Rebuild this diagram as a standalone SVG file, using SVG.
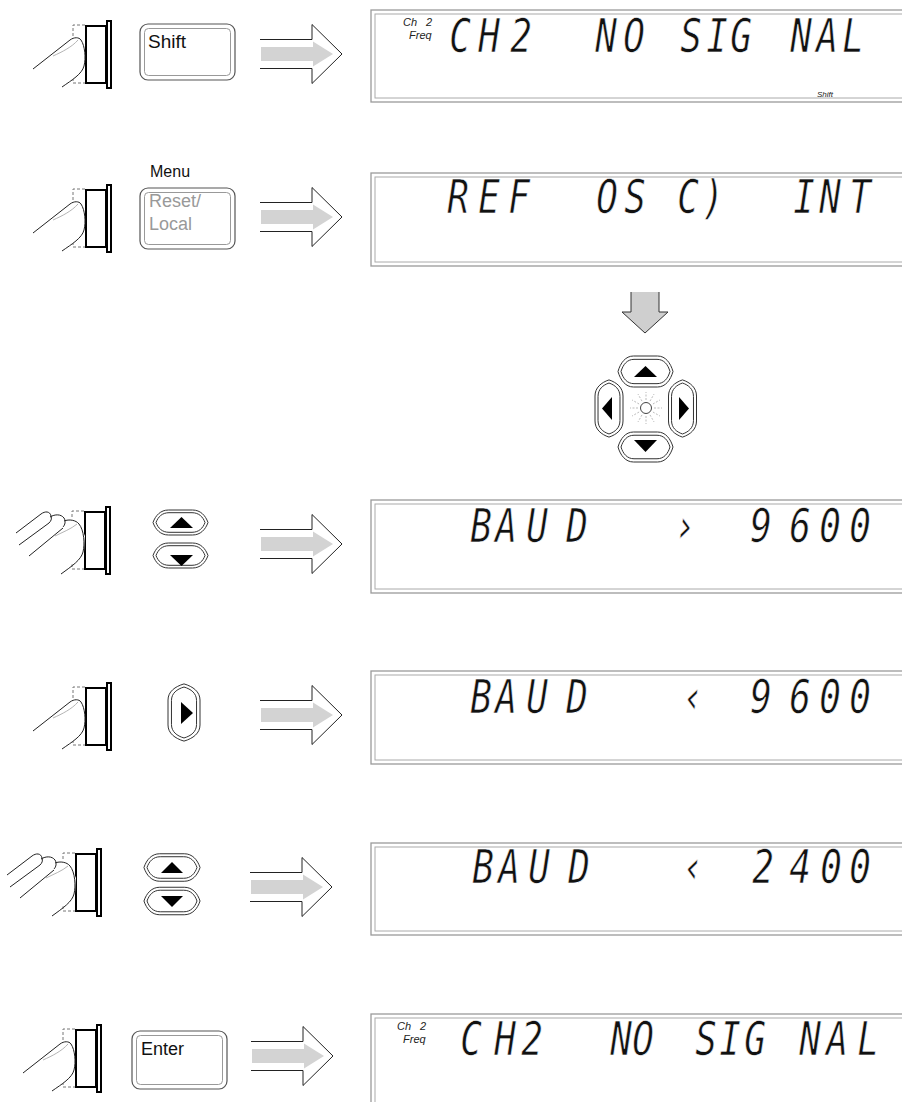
<svg xmlns="http://www.w3.org/2000/svg" xmlns:xlink="http://www.w3.org/1999/xlink" width="902" height="1102" viewBox="0 0 902 1102">
  <style>
    .lcdo{fill:#fff;stroke:#9a9a9a;stroke-width:1.3}
    .lcdi{fill:none;stroke:#aaa;stroke-width:1}
    .seg{font-family:"DejaVu Sans Mono","Liberation Mono",monospace;font-style:italic;font-size:36px;fill:#111;text-anchor:middle;stroke:#fff;stroke-width:0.5}
    .key{font-family:"Liberation Sans",Arial,sans-serif;font-size:18px;fill:#111}
    .keyo{fill:#fff;stroke:#555;stroke-width:1.2}
    .keyi{fill:none;stroke:#999;stroke-width:1}
    .ann{font-family:"Liberation Sans",Arial,sans-serif;font-style:italic;fill:#222}
    .ln{fill:none;stroke:#222;stroke-width:1}
    .nail{fill:none;stroke:#aaa;stroke-width:0.9}
    .tri{fill:#000}
    .ray{stroke:#aaa;stroke-width:0.8;stroke-dasharray:2,1.5}
  </style>
  <defs>
    <!-- side view of a push button, with its released position dashed -->
    <g id="btn">
      <path d="M85,25 H73 V83 H85" fill="none" stroke="#777" stroke-width="1" stroke-dasharray="3,2"/>
      <rect x="86" y="26" width="20" height="57" fill="#fff" stroke="#000" stroke-width="2"/>
      <rect x="107" y="21" width="4" height="67" fill="#fff" stroke="#000" stroke-width="2"/>
    </g>
    <!-- one finger pressing -->
    <g id="finger">
      <path d="M33,69 L70,40 C74,37 79,37 81,40 C85,46 86,58 84,66 C82,74 72,80 62,87 L40,87 Z" fill="#fff"/>
      <path class="ln" d="M33,69 L70,40 C74,37 79,37 81,40 C85,46 86,58 84,66 C82,74 72,80 62,87"/>
      <path class="nail" d="M53,56 C62,52 72,47 78,40"/>
    </g>
    <!-- several fingers pressing -->
    <g id="hand">
      <path d="M17,47 L42,26 L66,29 L80,36 L86,50 L85,66 L63,88 L30,88 L15,60 Z" fill="#fff"/>
      <path class="ln" d="M17,47 L42,28 C46,25 51,25 52,30 C53,33 52,35 50,37"/>
      <path class="ln" d="M20,59 L50,37"/>
      <path class="ln" d="M51,31 C56,28 62,28 65,32 C67,35 66,39 64,41"/>
      <path class="ln" d="M30,70 L64,42"/>
      <path class="ln" d="M65,35 C70,33 77,34 80,38 C85,44 86,58 84,66 C82,74 73,80 62,88"/>
      <path class="nail" d="M56,50 C64,46 72,43 78,38"/>
    </g>
    <!-- hollow block arrow with grey core -->
    <g id="arR">
      <path d="M0,-14.5 H52 V-29.5 L82,0 L52,29.5 V14.5 H0" fill="#fff" stroke="#222" stroke-width="1"/>
      <path d="M1,-7 H53 V-12.5 L73,0 L53,12.5 V7 H1 Z" fill="#d3d3d3"/>
    </g>
    <!-- lens shaped arrow key, double outline -->
    <g id="hkey">
      <path d="M-27.5,0 C-25,-7 -20,-12.5 -12,-12.5 H12 C20,-12.5 25,-7 27.5,0 C25,7 20,12.5 12,12.5 H-12 C-20,12.5 -25,7 -27.5,0 Z" fill="#fff" stroke="#333" stroke-width="1" vector-effect="non-scaling-stroke"/>
      <path d="M-24.5,0 C-22.5,-5.5 -18.5,-9.8 -11.5,-9.8 H11.5 C18.5,-9.8 22.5,-5.5 24.5,0 C22.5,5.5 18.5,9.8 11.5,9.8 H-11.5 C-18.5,9.8 -22.5,5.5 -24.5,0 Z" fill="none" stroke="#333" stroke-width="1" vector-effect="non-scaling-stroke"/>
    </g>
  </defs>

  <!-- step 1 : Shift -->
  <g id="step1-press">
    <use xlink:href="#btn"/>
    <use xlink:href="#finger"/>
  </g>
  <g id="step1-key">
    <rect class="keyo" x="140" y="24" width="95" height="56" rx="8"/>
    <rect class="keyi" x="144.5" y="28.5" width="86" height="47" rx="4"/>
    <text class="key" x="148" y="48" style="font-size:19px">Shift</text>
  </g>
  <g id="step1-display">
    <rect class="lcdo" x="371" y="10" width="540" height="92"/>
    <rect class="lcdi" x="375" y="14" width="540" height="84"/>
    <text class="ann" x="403" y="26" style="font-size:11px">Ch<tspan x="426">2</tspan></text>
    <text class="ann" x="409" y="39" style="font-size:11px">Freq</text>
    <g transform="translate(-3,52) scale(1,1.3)">
      <text class="seg" x="463 492 524" y="0">CH2</text>
      <text class="seg" x="609 637" y="0">NO</text>
      <text class="seg" x="694 720 744" y="0">SIG</text>
      <text class="seg" x="804 830 856" y="0">NAL</text>
    </g>
    <text class="ann" x="817" y="97" style="font-size:8px">Shift</text>
  </g>

  <!-- step 2 : Menu (Reset/Local) -->
  <g id="step2-press" transform="translate(0,164)">
    <use xlink:href="#btn"/>
    <use xlink:href="#finger"/>
  </g>
  <g id="step2-key">
    <text class="key" x="150" y="177" style="font-size:16px">Menu</text>
    <rect class="keyo" x="140" y="188" width="95" height="61" rx="8"/>
    <rect class="keyi" x="144.5" y="192.5" width="86" height="52" rx="4"/>
    <text class="key" x="149" y="207" style="fill:#999">Reset/</text>
    <text class="key" x="149" y="230" style="fill:#999">Local</text>
  </g>
  <g id="step2-display">
    <rect class="lcdo" x="371" y="173" width="540" height="93"/>
    <rect class="lcdi" x="375" y="177" width="540" height="85"/>
    <g transform="translate(-3,213) scale(1,1.3)">
      <text class="seg" x="461 492 522" y="0">REF</text>
      <text class="seg" x="610 638" y="0">OS</text>
      <text class="seg" x="691" y="0">C</text>
      <text class="seg" x="716" y="0">)</text>
      <text class="seg" x="807 833 863" y="0">INT</text>
    </g>
  </g>

  <!-- arrow cluster -->
  <g id="cursor-keys">
    <use xlink:href="#hkey" transform="translate(645.5,371.5) scale(1,1.24)"/>
    <use xlink:href="#hkey" transform="translate(645.5,447) scale(1,1.2)"/>
    <use xlink:href="#hkey" transform="translate(609,408.5) rotate(90) scale(1.04,1.12)"/>
    <use xlink:href="#hkey" transform="translate(682.5,408.5) rotate(90) scale(1.04,1.12)"/>
    <polygon class="tri" points="634,377 657,377 645.5,366"/>
    <polygon class="tri" points="634,440 657,440 645.5,452"/>
    <polygon class="tri" points="612,397 612,420 602,408.5"/>
    <polygon class="tri" points="679,397 679,420 689,408.5"/>
    <circle cx="646" cy="408" r="5.5" fill="#fff" stroke="#444" stroke-width="1"/>
    <line class="ray" x1="654" y1="408" x2="662" y2="408"/>
    <line class="ray" x1="652.9" y1="412" x2="659.9" y2="416"/>
    <line class="ray" x1="650" y1="414.9" x2="654" y2="421.9"/>
    <line class="ray" x1="646" y1="416" x2="646" y2="424"/>
    <line class="ray" x1="642" y1="414.9" x2="638" y2="421.9"/>
    <line class="ray" x1="639.1" y1="412" x2="632.1" y2="416"/>
    <line class="ray" x1="638" y1="408" x2="630" y2="408"/>
    <line class="ray" x1="639.1" y1="404" x2="632.1" y2="400"/>
    <line class="ray" x1="642" y1="401.1" x2="638" y2="394.1"/>
    <line class="ray" x1="646" y1="400" x2="646" y2="392"/>
    <line class="ray" x1="650" y1="401.1" x2="654" y2="394.1"/>
    <line class="ray" x1="652.9" y1="404" x2="659.9" y2="400"/>
  </g>

  <!-- step 3 : up / down -->
  <g id="step3-press" transform="translate(-1,486)">
    <use xlink:href="#btn"/>
    <use xlink:href="#hand"/>
  </g>
  <g id="step3-key">
    <use xlink:href="#hkey" transform="translate(180.5,522.5)"/>
    <use xlink:href="#hkey" transform="translate(180.5,555.5)"/>
    <polygon class="tri" points="170,528 193,528 181.5,517"/>
    <polygon class="tri" points="170,555 193,555 181.5,566"/>
  </g>
  <g id="step3-display">
    <rect class="lcdo" x="371" y="500" width="540" height="93"/>
    <rect class="lcdi" x="375" y="504" width="540" height="85"/>
    <g transform="translate(-3,542) scale(1,1.3)">
      <text class="seg" x="484 509 540" y="0">BAU</text>
      <text class="seg" x="580" y="0">D</text>
      <text class="seg" x="688" y="0">›</text>
      <text class="seg" x="764 803 833 863" y="0">9600</text>
    </g>
  </g>

  <!-- step 4 : right -->
  <g id="step4-press" transform="translate(0,662)">
    <use xlink:href="#btn"/>
    <use xlink:href="#finger"/>
  </g>
  <g id="step4-key">
    <use xlink:href="#hkey" transform="translate(184,712.5) rotate(90) scale(1.04,1.28)"/>
    <polygon class="tri" points="181,702 181,724 193,713"/>
  </g>
  <g id="step4-display">
    <rect class="lcdo" x="371" y="671" width="540" height="93"/>
    <rect class="lcdi" x="375" y="675" width="540" height="85"/>
    <g transform="translate(-3,713) scale(1,1.3)">
      <text class="seg" x="484 509 540" y="0">BAU</text>
      <text class="seg" x="580" y="0">D</text>
      <text class="seg" x="696" y="0">‹</text>
      <text class="seg" x="764 803 833 863" y="0">9600</text>
    </g>
  </g>

  <!-- step 5 : up / down -->
  <g id="step5-press" transform="translate(-10,828)">
    <use xlink:href="#btn"/>
    <use xlink:href="#hand"/>
  </g>
  <g id="step5-key">
    <use xlink:href="#hkey" transform="translate(172,867.5) scale(1.02,1.1)"/>
    <use xlink:href="#hkey" transform="translate(172,901) scale(1.02,1.1)"/>
    <polygon class="tri" points="161,873 183,873 172,862"/>
    <polygon class="tri" points="161,896 183,896 172,907"/>
  </g>
  <g id="step5-display">
    <rect class="lcdo" x="371" y="843" width="540" height="92"/>
    <rect class="lcdi" x="375" y="847" width="540" height="84"/>
    <g transform="translate(-3,883) scale(1,1.3)">
      <text class="seg" x="486 512 542" y="0">BAU</text>
      <text class="seg" x="582" y="0">D</text>
      <text class="seg" x="696" y="0">‹</text>
      <text class="seg" x="766 803 834 863" y="0">2400</text>
    </g>
  </g>

  <!-- step 6 : Enter -->
  <g id="step6-press" transform="translate(-10,1004)">
    <use xlink:href="#btn"/>
    <use xlink:href="#finger"/>
  </g>
  <g id="step6-key">
    <rect class="keyo" x="132" y="1031" width="95" height="58" rx="8"/>
    <rect class="keyi" x="136.5" y="1035.5" width="86" height="49" rx="4"/>
    <text class="key" x="141" y="1055">Enter</text>
  </g>
  <g id="step6-display">
    <rect class="lcdo" x="371" y="1014" width="540" height="93"/>
    <rect class="lcdi" x="375" y="1018" width="540" height="85"/>
    <text class="ann" x="397" y="1030" style="font-size:11px">Ch<tspan x="420">2</tspan></text>
    <text class="ann" x="403" y="1043" style="font-size:11px">Freq</text>
    <g transform="translate(-3,1055) scale(1,1.3)">
      <text class="seg" x="474 508 535" y="0">CH2</text>
      <text class="seg" x="624 646" y="0">NO</text>
      <text class="seg" x="709 733 758" y="0">SIG</text>
      <text class="seg" x="813 840 871" y="0">NAL</text>
    </g>
  </g>

  <!-- connectors -->
  <g id="connectors">
    <use xlink:href="#arR" transform="translate(260,54)"/>
    <use xlink:href="#arR" transform="translate(260,217)"/>
    <path d="M631,292 V312 H622 L645,333 L668,312 H659 V292" fill="#cfcfcf" stroke="#333" stroke-width="1"/>
    <use xlink:href="#arR" transform="translate(260,544)"/>
    <use xlink:href="#arR" transform="translate(260,715)"/>
    <use xlink:href="#arR" transform="translate(250,887)"/>
    <use xlink:href="#arR" transform="translate(251,1056)"/>
  </g>
</svg>
